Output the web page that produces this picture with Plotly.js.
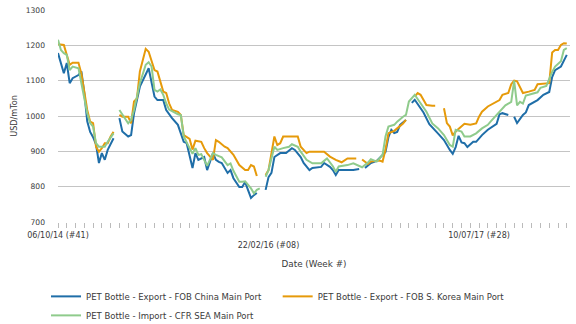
<!DOCTYPE html>
<html>
<head>
<meta charset="utf-8">
<script src="https://cdn.plot.ly/plotly-3.0.1.min.js"></script>
<style>html,body{margin:0;padding:0;background:#fff;}#chart{width:576px;height:324px;}</style>
</head>
<body>
<div id="chart"></div>
<script>
// Week index 0 = 06/10/14 (#41); null = gap in the series
const weeksChina = [0,2,3,4,5,7,8,9,10,11,12,13,14,15,16,17,19,20,
  21,22,24,25,26,28,31,33,34,36,37,39,41,42,43,44,46,47,48,50,51,53,54,55,56,58,59,60,62,63,64,65,66,67,68,69,
  71,72,73,74,76,78,80,81,83,84,86,87,90,91,93,94,95,96,99,101,103,104,
  105,107,109,111,112,113,114,115,116,117,119,120,
  121,122,125,127,130,132,134,135,136,137,138,139,140,142,143,145,147,148,150,151,152,154,155,
  156,157,159,160,161,163,164,166,168,169,170,172,173,174];
const china = [1178,1121,1150,1093,1107,1116,1126,1065,985,955,940,920,867,895,876,904,937,null,
  994,956,942,946,1008,1083,1135,1055,1045,1045,1017,994,975,952,927,923,853,895,876,884,847,895,876,870,867,839,847,824,799,799,813,790,768,776,782,null,
  791,827,839,884,895,895,909,904,884,867,847,853,856,867,856,847,833,847,847,847,850,null,
  853,867,873,890,898,940,961,952,955,975,989,null,
  1037,1046,1010,977,950,932,904,893,912,944,925,923,912,927,927,946,961,967,978,1005,1008,1003,null,
  998,980,1003,1010,1031,1040,1045,1060,1068,1110,1130,1140,1159,1173];

const weeksKorea = [0,1,2,3,4,5,7,8,9,10,11,12,13,14,15,16,17,18,19,20,
  21,22,24,25,26,27,28,30,31,32,33,34,36,37,38,39,41,42,43,45,46,47,49,50,51,53,54,55,57,58,60,62,64,65,66,67,68,69,
  71,72,74,75,76,77,82,83,85,86,91,93,95,97,99,102,103,
  104,106,107,110,111,112,113,115,116,118,119,120,
  122,123,124,126,128,129,130,
  132,133,134,135,136,138,139,141,143,144,145,147,148,151,152,154,155,156,157,158,159,161,163,164,167,168,169,170,171,172,173,174];
const korea = [1203,1201,1201,1173,1145,1151,1151,1120,1074,1017,984,980,913,899,909,923,923,942,955,null,
  1003,998,998,979,1041,1050,1126,1190,1182,1159,1130,1126,1069,1065,1036,1017,1012,1003,946,935,905,930,927,909,895,876,932,927,913,909,890,861,847,847,861,857,830,null,
  833,847,942,918,923,942,942,913,895,899,899,885,876,869,880,880,null,
  877,864,871,874,871,905,951,958,965,979,989,null,
  1055,1065,1060,1031,1029,1029,null,
  1022,980,970,945,956,972,978,975,979,998,1012,1027,1031,1045,1060,1065,1090,1100,1098,1079,1065,1069,1074,1090,1093,1093,1180,1187,1187,1201,1206,1205];

const weeksSEA = [0,1,2,3,4,5,7,8,10,11,12,13,14,15,16,17,19,20,
  21,22,24,25,26,28,30,31,32,33,34,35,36,37,38,41,42,43,44,45,46,47,48,49,51,53,54,56,58,59,60,62,63,64,66,67,68,69,70,
  71,72,74,75,77,79,80,82,83,85,87,90,91,92,94,95,96,99,101,103,104,106,107,109,110,111,112,113,115,116,118,119,120,
  122,124,126,128,130,132,134,135,136,138,139,141,143,145,147,148,150,152,153,155,156,157,158,159,160,161,164,165,167,169,170,172,173,174];
const sea = [1216,1187,1178,1173,1130,1140,1135,1095,1008,980,970,923,913,913,913,927,951,null,
  1017,1003,979,989,1017,1093,1145,1152,1140,1074,1069,1075,1060,1036,1018,1005,1003,942,923,909,893,909,890,892,859,895,890,883,861,866,845,814,814,815,795,781,791,795,null,
  828,847,913,904,909,913,920,913,899,876,866,866,873,880,858,842,857,861,866,858,855,868,878,871,880,890,942,970,975,984,998,1003,1041,
  1060,1036,1012,979,965,946,918,913,961,956,942,942,951,965,975,985,1003,1020,1030,1040,1100,1030,1040,1035,1058,1060,1067,1080,1085,1125,1140,1155,1187,1192];

// x ticks every 3 weeks; labelled weeks (middle label on a second row)
const tickWeeks = [];
for (let w = 0; w <= 174; w += 3) tickWeeks.push(w);
const labelWeeks = [0, 72, 144];
const labelTexts = ['06/10/14 (#41)', '<br>22/02/16 (#08)', '10/07/17 (#28)'];
const tickTexts = tickWeeks.map(w => { const i = labelWeeks.indexOf(w); return i >= 0 ? labelTexts[i] : ''; });

const FONT = 'DejaVu Sans, Verdana, sans-serif';
const TXT = '#3a3a3a';
const traces = [
  {x: weeksChina, y: china, name: 'PET Bottle - Export - FOB China Main Port', line: {color: '#1f6ea8', width: 2}},
  {x: weeksKorea, y: korea, name: 'PET Bottle - Export - FOB S. Korea Main Port', line: {color: '#e69a0a', width: 2}},
  {x: weeksSEA, y: sea, name: 'PET Bottle - Import - CFR SEA Main Port', line: {color: '#8fcb8c', width: 2}}
].map(t => Object.assign({type: 'scatter', mode: 'lines', connectgaps: false, hoverinfo: 'skip'}, t));

const layout = {
  width: 576, height: 324,
  margin: {l: 58, r: 6, t: 10, b: 102},
  paper_bgcolor: '#fff', plot_bgcolor: '#fff',
  font: {family: FONT, size: 8, color: TXT},
  showlegend: true,
  xaxis: {
    range: [0, 175.1], tickmode: 'array', tickvals: tickWeeks, ticktext: tickTexts,
    ticks: 'outside', ticklen: 5, tickcolor: '#bbb', tickangle: 0, ticklabelstandoff: 0,
    showgrid: false, zeroline: false, showline: false,
    tickfont: {family: FONT, size: 8, color: TXT},
    title: {text: 'Date (Week #)', font: {family: FONT, size: 8.8, color: TXT}, standoff: 11}
  },
  yaxis: {
    range: [700, 1300], dtick: 100, tick0: 700,
    gridcolor: '#c4c4c4', gridwidth: 1, zeroline: false, showline: false,
    ticklabelstandoff: 12,
    tickfont: {family: FONT, size: 7.6, color: TXT},
    title: {text: 'USD/mTon', font: {family: FONT, size: 8.1, color: TXT}, standoff: 6}
  },
  legend: {
    orientation: 'h', xref: 'container', yref: 'container',
    x: 46 / 576, xanchor: 'left', y: 0.13, yanchor: 'top',
    font: {family: FONT, size: 8.5, color: TXT}, traceorder: 'normal',
    itemwidth: 30, tracegroupgap: 0
  }
};
Plotly.newPlot('chart', traces, layout, {staticPlot: true, displayModeBar: false});
</script>
</body>
</html>
